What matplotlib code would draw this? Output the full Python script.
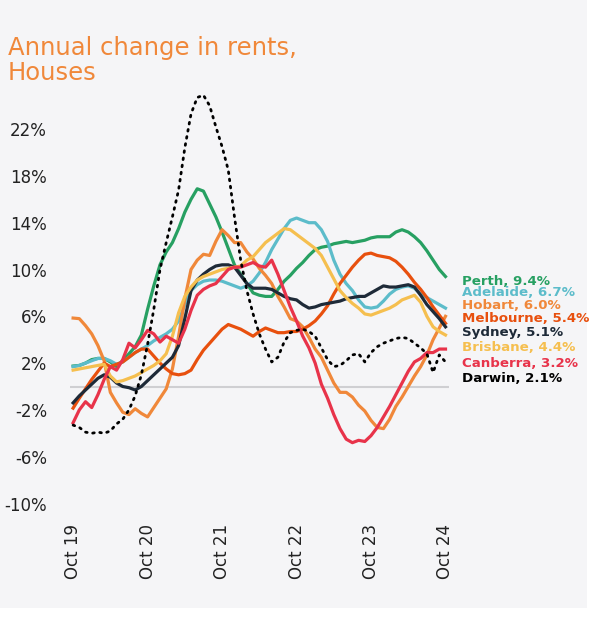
import numpy as np
import matplotlib
matplotlib.use('Agg')
import matplotlib.pyplot as plt
from matplotlib.patches import Rectangle

# monthly annual change in house rents (%), Oct 2019 -> Oct 2024
perth = [1.75, 1.8, 2.0, 2.3, 2.4, 2.4, 2.1, 1.7, 2.2, 2.8, 3.4, 4.4, 6.6, 8.6, 10.4, 11.5,
         12.3, 13.5, 14.9, 16.0, 16.9, 16.7, 15.6, 14.5, 13.2, 11.8, 10.4, 9.6, 8.8, 8.0, 7.8,
         7.7, 7.7, 8.3, 9.0, 9.5, 10.1, 10.6, 11.2, 11.7, 11.9, 12.0, 12.2, 12.3, 12.4, 12.3,
         12.4, 12.5, 12.7, 12.8, 12.8, 12.8, 13.2, 13.4, 13.2, 12.8, 12.3, 11.6, 10.8, 10.0, 9.4]
adelaide = [1.7, 1.8, 2.0, 2.2, 2.4, 2.4, 2.2, 1.9, 2.1, 2.5, 2.9, 3.2, 3.5, 3.9, 4.2, 4.5,
            4.9, 5.6, 7.0, 8.2, 8.7, 9.0, 9.1, 9.1, 9.0, 8.8, 8.6, 8.4, 8.6, 9.0, 9.7,
            10.6, 11.7, 12.6, 13.5, 14.2, 14.4, 14.2, 14.0, 14.0, 13.4, 12.4, 10.8, 9.6, 8.8, 8.2,
            7.4, 6.8, 6.7, 6.8, 7.3, 7.9, 8.3, 8.5, 8.6, 8.4, 7.9, 7.6, 7.3, 7.0, 6.7]
hobart = [5.85, 5.8, 5.2, 4.5, 3.5, 2.2, -0.5, -1.4, -2.2, -2.4, -1.9, -2.3, -2.6, -1.8, -1.0, -0.2,
          1.5, 4.3, 7.5, 10.0, 10.8, 11.3, 11.2, 12.4, 13.4, 12.9, 12.3, 12.3, 11.5, 10.9, 10.1,
          9.5, 8.8, 7.7, 6.8, 5.8, 5.6, 5.1, 4.2, 3.2, 2.5, 1.4, 0.3, -0.5, -0.5, -0.9,
          -1.6, -2.1, -2.9, -3.5, -3.6, -2.8, -1.7, -0.9, 0.0, 0.9, 1.7, 2.7, 4.0, 5.0, 6.0]
melbourne = [-1.85, -1.0, -0.2, 0.6, 1.3, 2.0, 1.7, 1.9, 2.1, 2.5, 2.9, 3.2, 3.2, 2.6, 2.0, 1.5,
             1.1, 1.0, 1.1, 1.4, 2.3, 3.1, 3.7, 4.3, 4.9, 5.3, 5.1, 4.9, 4.6, 4.3, 4.7,
             5.0, 4.8, 4.6, 4.6, 4.7, 4.7, 4.9, 5.2, 5.6, 6.2, 6.9, 7.9, 8.8, 9.5, 10.2,
             10.8, 11.3, 11.4, 11.2, 11.1, 11.0, 10.7, 10.2, 9.6, 8.9, 8.3, 7.6, 6.8, 6.1, 5.4]
sydney = [-1.4, -0.8, -0.3, 0.2, 0.7, 1.0, 0.8, 0.3, 0.0, -0.1, -0.3, 0.0, 0.5, 1.0, 1.5, 2.0,
          2.5, 3.5, 5.8, 8.2, 9.1, 9.6, 10.0, 10.3, 10.4, 10.4, 10.2, 9.5, 8.8, 8.4, 8.4,
          8.4, 8.3, 8.0, 7.7, 7.5, 7.4, 7.0, 6.7, 6.8, 7.0, 7.1, 7.2, 7.3, 7.5, 7.6,
          7.7, 7.7, 8.0, 8.3, 8.6, 8.5, 8.5, 8.6, 8.7, 8.5, 7.8, 7.0, 6.4, 5.8, 5.1]
brisbane = [1.4, 1.5, 1.6, 1.7, 1.8, 1.9, 0.9, 0.4, 0.5, 0.7, 0.9, 1.2, 1.5, 1.8, 2.2, 2.8,
            4.3, 6.3, 7.7, 8.5, 9.1, 9.4, 9.6, 9.8, 10.0, 10.1, 10.2, 10.3, 10.8, 11.1, 11.7,
            12.3, 12.7, 13.1, 13.5, 13.4, 13.0, 12.6, 12.2, 11.8, 11.2, 10.2, 9.2, 8.2, 7.6, 7.1,
            6.7, 6.2, 6.1, 6.3, 6.5, 6.7, 7.0, 7.4, 7.6, 7.8, 7.2, 6.0, 5.1, 4.7, 4.4]
canberra = [-3.1, -2.0, -1.3, -1.8, -0.7, 0.6, 1.7, 1.4, 2.3, 3.7, 3.3, 4.0, 4.8, 4.5, 3.8, 4.3,
            4.0, 3.7, 4.9, 6.5, 7.8, 8.3, 8.6, 8.8, 9.4, 10.0, 10.2, 10.2, 10.4, 10.6, 10.3,
            10.2, 10.8, 9.6, 8.2, 6.8, 5.6, 4.3, 3.3, 2.0, 0.2, -1.0, -2.4, -3.6, -4.5, -4.8,
            -4.6, -4.7, -4.2, -3.5, -2.6, -1.7, -0.7, 0.3, 1.3, 2.1, 2.4, 2.9, 2.9, 3.2, 3.2]
darwin = [-3.3, -3.5, -3.9, -4.0, -3.9, -4.0, -3.8, -3.2, -2.8, -2.0, -0.8, 1.0, 3.6, 6.6, 10.0, 12.3,
          14.5, 16.8, 20.4, 23.3, 24.7, 24.9, 24.0, 22.2, 20.5, 18.5, 14.5, 10.8, 8.2, 6.2, 4.5,
          3.2, 2.1, 2.5, 3.8, 4.6, 4.8, 4.9, 4.7, 4.3, 3.3, 2.3, 1.7, 1.8, 2.2, 2.7,
          2.8, 2.1, 2.9, 3.4, 3.7, 3.9, 4.1, 4.2, 4.1, 3.7, 3.3, 2.8, 1.2, 2.7, 2.1]

cities = ['Perth', 'Adelaide', 'Hobart', 'Melbourne', 'Sydney', 'Brisbane', 'Canberra', 'Darwin']
latest = ['9.4%', '6.7%', '6.0%', '5.4%', '5.1%', '4.4%', '3.2%', '2.1%']
x_labels = ['Oct 19', 'Oct 20', 'Oct 21', 'Oct 22', 'Oct 23', 'Oct 24']
y_ticks = [-10, -6, -2, 2, 6, 10, 14, 18, 22]

colors = ['#27A062', '#5CBCCA', '#F0883A', '#E8500E', '#1E2A38', '#F5BF4F', '#E8334A', '#000000']
label_y = [9.0, 8.0, 6.9, 5.8, 4.6, 3.3, 2.0, 0.7]

series = [perth, adelaide, hobart, melbourne, sydney, brisbane, canberra, darwin]

fig = plt.figure(figsize=(5.97, 6.26), dpi=100)
fig.patch.set_facecolor('white')
# grey card behind the chart, white margin on right and bottom
fig.patches.append(Rectangle((0, 18 / 626), 587 / 597, 1 - 18 / 626, transform=fig.transFigure,
                             facecolor='#F5F5F7', edgecolor='none', zorder=-10))

ax = fig.add_axes([70 / 597, (626 - 515.2) / 626, 378.6 / 597, 432.9 / 626])
ax.set_facecolor('none')

x = np.arange(len(perth))
ax.axhline(0, color='#CFCFD2', lw=1.5, zorder=1)
for name, vals, c in zip(cities, series, colors):
    if name == 'Darwin':
        ax.plot(x, vals, color=c, lw=2.0, linestyle=(0, (0.6, 2.0)), dash_capstyle='round', zorder=3)
    else:
        ax.plot(x, vals, color=c, lw=2.3, solid_joinstyle='round', zorder=2)

for name, val, c, ly in zip(cities, latest, colors, label_y):
    ax.text(1.035, ly, f'{name}, {val}', transform=ax.get_yaxis_transform(),
            color=c, fontsize=9.6, fontweight='bold', va='center', ha='left')

ax.set_xlim(-0.5, 60.5)
ax.set_ylim(-11, 26)
ax.set_xticks(x[::12])
ax.set_xticklabels(x_labels, rotation=90, fontsize=12, color='#222222')
ax.set_yticks(y_ticks)
ax.set_yticklabels([f'{v}%' for v in y_ticks], fontsize=12, color='#222222')
ax.tick_params(axis='both', length=0)
ax.tick_params(axis='y', pad=16.5)
ax.tick_params(axis='x', pad=6)
for s in ax.spines.values():
    s.set_visible(False)

fig.text(8 / 597, 1 - 80 / 626, 'Annual change in rents,\nHouses', color='#F0883A',
         fontsize=17.5, ha='left', va='baseline', linespacing=1.05)

fig.savefig('out.png', dpi=100)
